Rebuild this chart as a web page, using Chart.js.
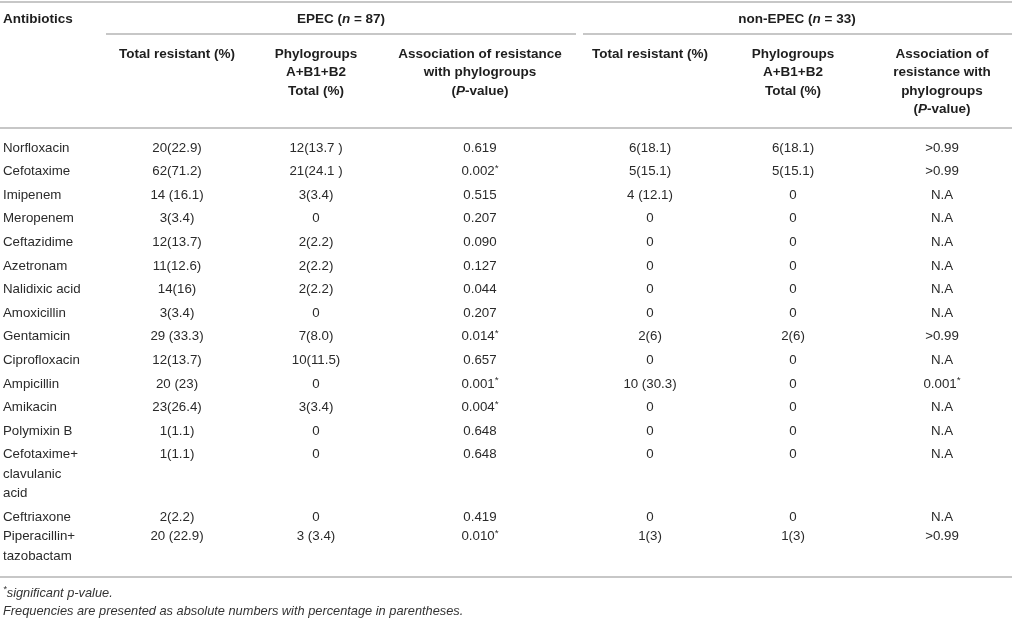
<!DOCTYPE html>
<html>
<head>
<meta charset="utf-8">
<script src="https://cdn.jsdelivr.net/npm/chart.js@4.4.1/dist/chart.umd.min.js"></script>
<style>
  html, body { margin: 0; padding: 0; background: #fff; }
  #wrap { position: relative; width: 1015px; height: 618px; }
</style>
</head>
<body>
<div id="wrap"><canvas id="tbl"></canvas></div>
<script>
// table data
const antibiotics = ["Norfloxacin", "Cefotaxime", "Imipenem", "Meropenem", "Ceftazidime", "Azetronam",
  "Nalidixic acid", "Amoxicillin", "Gentamicin", "Ciprofloxacin", "Ampicillin", "Amikacin", "Polymixin B",
  "Cefotaxime+\nclavulanic\nacid", "Ceftriaxone", "Piperacillin+\ntazobactam"];
const epecTotal = ["20(22.9)", "62(71.2)", "14 (16.1)", "3(3.4)", "12(13.7)", "11(12.6)", "14(16)", "3(3.4)",
  "29 (33.3)", "12(13.7)", "20 (23)", "23(26.4)", "1(1.1)", "1(1.1)", "2(2.2)", "20 (22.9)"];
const epecPhylo = ["12(13.7 )", "21(24.1 )", "3(3.4)", "0", "2(2.2)", "2(2.2)", "2(2.2)", "0",
  "7(8.0)", "10(11.5)", "0", "3(3.4)", "0", "0", "0", "3 (3.4)"];
const epecP = ["0.619", "0.002*", "0.515", "0.207", "0.090", "0.127", "0.044", "0.207",
  "0.014*", "0.657", "0.001*", "0.004*", "0.648", "0.648", "0.419", "0.010*"];
const nonEpecTotal = ["6(18.1)", "5(15.1)", "4 (12.1)", "0", "0", "0", "0", "0",
  "2(6)", "0", "10 (30.3)", "0", "0", "0", "0", "1(3)"];
const nonEpecPhylo = ["6(18.1)", "5(15.1)", "0", "0", "0", "0", "0", "0",
  "2(6)", "0", "0", "0", "0", "0", "0", "1(3)"];
const nonEpecP = [">0.99", ">0.99", "N.A", "N.A", "N.A", "N.A", "N.A", "N.A",
  ">0.99", "N.A", "0.001*", "N.A", "N.A", "N.A", "N.A", ">0.99"];

const groupHeaders = ["EPEC (_n_ = 87)", "non-EPEC (_n_ = 33)"];
const columnHeaders = [
  ["Antibiotics"],
  ["Total resistant (%)"],
  ["Phylogroups", "A+B1+B2", "Total (%)"],
  ["Association of resistance", "with phylogroups", "(_P_-value)"],
  ["Total resistant (%)"],
  ["Phylogroups", "A+B1+B2", "Total (%)"],
  ["Association of", "resistance with", "phylogroups", "(_P_-value)"]
];
const footnotes = ["_*significant p-value._",
  "_Frequencies are presented as absolute numbers with percentage in parentheses._"];

// layout (table units = px)
const COL_X = [3, 177, 316, 480, 650, 793, 942];
const GROUP_X = [341, 797];
const GROUP_SPAN = [[106, 576], [583, 1012]];
const FIRST_ROW = 148, ROW_STEP = 23.6, LINE_STEP = 19.3, HEAD_TOP = 54, HEAD_STEP = 18.4;
const ROW_SHIFT = { 15: -4 };
const RULES = [2, 128, 577];
const FONT = '"Liberation Sans", Arial, Helvetica, sans-serif';

const columns = [antibiotics, epecTotal, epecPhylo, epecP, nonEpecTotal, nonEpecPhylo, nonEpecP];

const rowY = [];
let yy = FIRST_ROW;
antibiotics.forEach((name, i) => {
  yy += ROW_SHIFT[i] || 0;
  rowY.push(yy);
  yy += ROW_STEP + (name.split("\n").length - 1) * LINE_STEP;
});

// text with _italic_ parts and raised asterisks
function drawRich(ctx, str, x, y, align, size, bold) {
  const segs = [];
  let italic = false;
  str.split("_").forEach((part, i) => {
    if (i > 0) italic = !italic;
    part.split(/(\*)/).forEach(p => {
      if (p) segs.push({ t: p, italic: italic, sup: p === "*" });
    });
  });
  const fontOf = s => (s.italic ? "italic " : "") + (bold ? "bold " : "") +
    (s.sup ? size * 0.75 : size) + "px " + FONT;
  let total = 0;
  segs.forEach(s => { ctx.font = fontOf(s); s.w = ctx.measureText(s.t).width; total += s.w; });
  let cx = align === "center" ? x - total / 2 : x;
  ctx.textAlign = "left";
  ctx.textBaseline = "middle";
  segs.forEach(s => {
    ctx.font = fontOf(s);
    ctx.fillText(s.t, cx, s.sup ? y - size * 0.25 : y);
    cx += s.w;
  });
}

const tablePlugin = {
  id: "tablePlugin",
  afterDatasetsDraw(chart) {
    const ctx = chart.ctx;
    const xs = chart.scales.x, ys = chart.scales.y;
    const px = v => xs.getPixelForValue(v), py = v => ys.getPixelForValue(v);
    ctx.save();

    // rules
    ctx.strokeStyle = "#b5b5b5";
    ctx.lineWidth = 1.6;
    RULES.forEach(r => {
      ctx.beginPath(); ctx.moveTo(px(0), py(r)); ctx.lineTo(px(1012), py(r)); ctx.stroke();
    });
    GROUP_SPAN.forEach(sp => {
      ctx.beginPath(); ctx.moveTo(px(sp[0]), py(34)); ctx.lineTo(px(sp[1]), py(34)); ctx.stroke();
    });

    // headers
    ctx.fillStyle = "#1e1e1e";
    drawRich(ctx, columnHeaders[0][0], px(COL_X[0]), py(19.5), "left", 13.5, true);
    groupHeaders.forEach((g, i) => drawRich(ctx, g, px(GROUP_X[i]), py(19.5), "center", 13.5, true));
    columnHeaders.slice(1).forEach((lines, c) => {
      lines.forEach((ln, k) => drawRich(ctx, ln, px(COL_X[c + 1]), py(HEAD_TOP + k * HEAD_STEP), "center", 13.5, true));
    });

    // body cells, placed by the scatter elements
    ctx.fillStyle = "#2a2a2a";
    chart.data.datasets.forEach((ds, d) => {
      const meta = chart.getDatasetMeta(d);
      meta.data.forEach((el, i) => {
        const lines = ds.data[i].label.split("\n");
        lines.forEach((ln, k) => {
          const y = py(ds.data[i].y + k * LINE_STEP);
          drawRich(ctx, ln, el.x, y, d === 0 ? "left" : "center", 13.3, false);
        });
      });
    });

    // footnotes
    ctx.fillStyle = "#333";
    footnotes.forEach((f, i) => drawRich(ctx, f, px(3), py(593 + i * 18), "left", 12.8, false));
    ctx.restore();
  }
};

const datasets = columns.map((col, c) => ({
  label: "col" + c,
  data: col.map((txt, r) => ({ x: COL_X[c], y: rowY[r], label: txt })),
  pointRadius: 0,
  pointHoverRadius: 0,
  showLine: false
}));

new Chart(document.getElementById("tbl"), {
  type: "scatter",
  data: { datasets: datasets },
  options: {
    responsive: true,
    maintainAspectRatio: false,
    animation: false,
    events: [],
    layout: { padding: 0 },
    plugins: { legend: { display: false }, tooltip: { enabled: false } },
    scales: {
      x: { type: "linear", min: 0, max: 1015, display: false },
      y: { type: "linear", min: 0, max: 618, reverse: true, display: false }
    }
  },
  plugins: [tablePlugin]
});
</script>
</body>
</html>
